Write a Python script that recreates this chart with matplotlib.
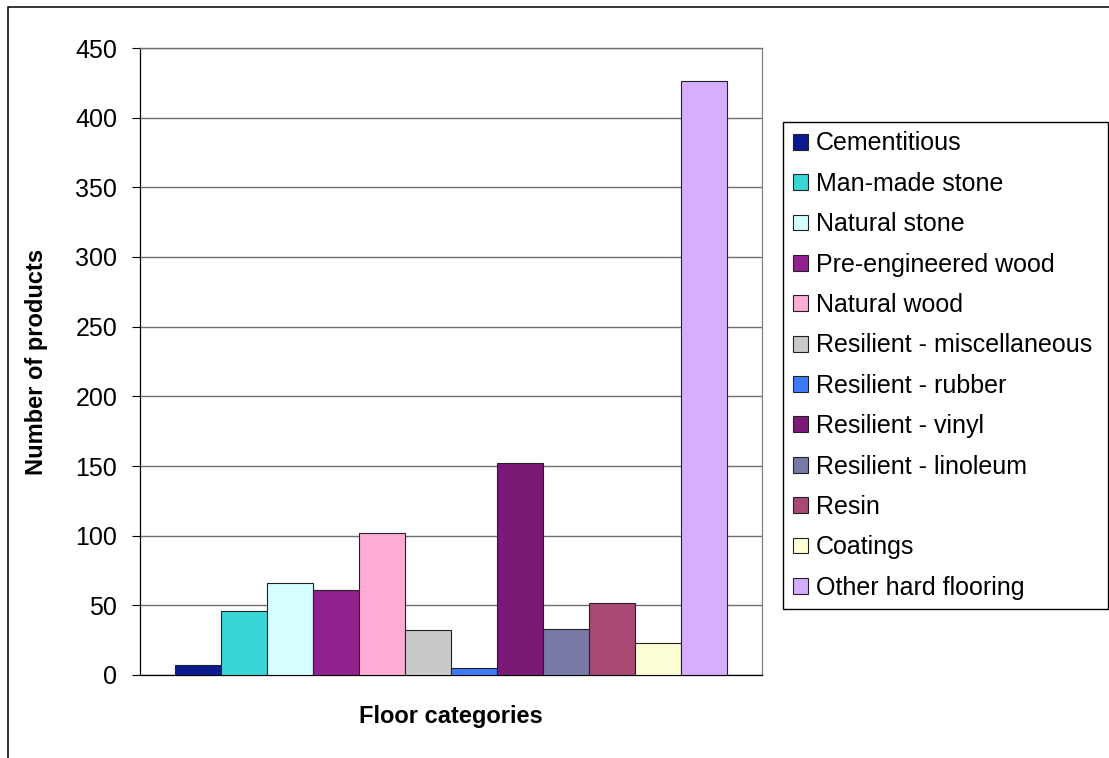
import numpy as np
import matplotlib.pyplot as plt
from matplotlib.patches import Rectangle

plt.rcParams['font.family'] = ['Liberation Sans', 'DejaVu Sans']

# 床材カテゴリごとの製品数
CATEGORIES = ["Cementitious", "Man-made stone", "Natural stone", "Pre-engineered wood",
              "Natural wood", "Resilient - miscellaneous", "Resilient - rubber",
              "Resilient - vinyl", "Resilient - linoleum", "Resin", "Coatings",
              "Other hard flooring"]
COUNTS = [7, 46, 66, 61, 102, 32, 5, 152, 33, 52, 23, 426]
COLORS = ["#0B1B8F", "#38D6D6", "#D5FFFF", "#93208F", "#FFADD6", "#C9C9C9",
          "#3C7CFC", "#7B1977", "#7979A8", "#A84A74", "#FFFFD6", "#D6AEFF"]
Y_TICKS = [0, 50, 100, 150, 200, 250, 300, 350, 400, 450]

W, H = 1109, 758
fig = plt.figure(figsize=(W / 100, H / 100), dpi=100)
ax = fig.add_axes([140 / W, 1 - 675 / H, 622 / W, 627 / H])

# 1カテゴリに12本並べる (gap width 150%)
n = len(COUNTS)
barWidth = 1.0 / (n + 1.5)
xs = (np.arange(n) - (n - 1) / 2) * barWidth
bars = []
for x, v, c, name in zip(xs, COUNTS, COLORS, CATEGORIES):
    b = ax.bar(x, v, width=barWidth, color=c, edgecolor="#222222", linewidth=0.8,
               label=name, zorder=3)
    bars.append(b[0])

ax.set_xlim(-0.5, 0.5)
ax.set_ylim(0, 450)
ax.set_yticks(Y_TICKS)
ax.set_xticks([])
ax.yaxis.grid(True, color="#707070", linewidth=1.0, zorder=1)
ax.tick_params(axis="y", direction="out", length=5.8, width=0.8, pad=10.5, labelsize=18)

for side in ["left", "bottom"]:
    ax.spines[side].set_color("black")
    ax.spines[side].set_linewidth(0.9)
ax.spines["right"].set_color("#808080")
ax.spines["right"].set_linewidth(0.9)
ax.spines["top"].set_color("#707070")
ax.spines["top"].set_linewidth(1.0)

ax.set_ylabel("Number of products", fontsize=17, fontweight="bold")
ax.yaxis.set_label_coords(-0.148, 0.5)
ax.set_xlabel("Floor categories", fontsize=17, fontweight="bold", va="center")
ax.xaxis.set_label_coords(0.5, -(717 - 675) / 627)

# 凡例: 枠は x=783..1108, y=122..602
leg = fig.legend(bars, CATEGORIES, loc="upper left",
                 bbox_to_anchor=(783 / W, 1 - 602 / H, 325 / W, 480 / H), mode="expand",
                 borderaxespad=0, fontsize=18, frameon=True, fancybox=False,
                 edgecolor="black", framealpha=1, handlelength=0.6, handleheight=0.6,
                 handletextpad=0.33, labelspacing=0.655, borderpad=0.38)
leg.get_frame().set_linewidth(1.0)

# グラフ全体の枠 (右と下ははみ出す)
fig.patches.append(Rectangle((8 / W, -0.05), 1.05, 1.05 - 7 / H,
                             transform=fig.transFigure, fill=False,
                             edgecolor="black", linewidth=1.1))

fig.savefig("out.png", dpi=100)
